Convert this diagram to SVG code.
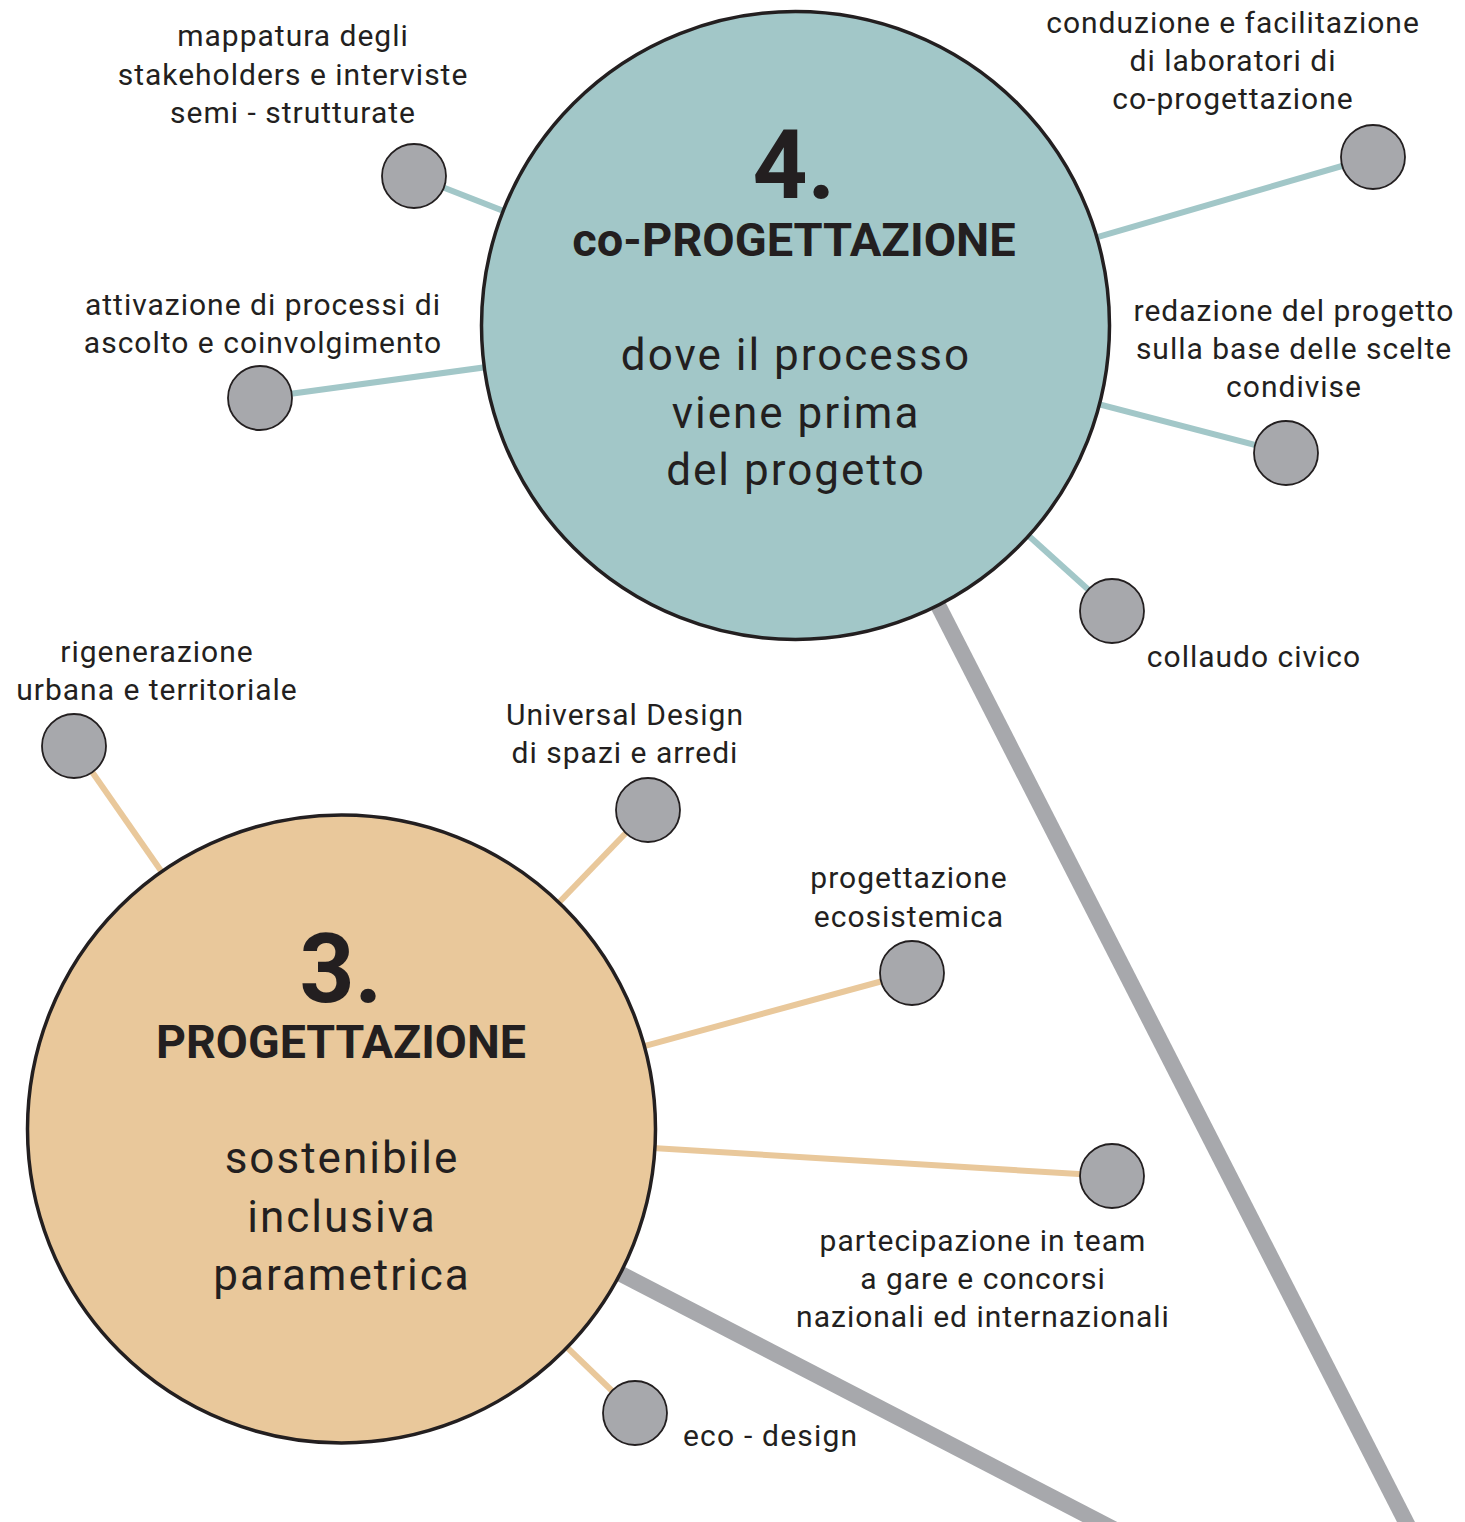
<svg xmlns="http://www.w3.org/2000/svg" width="1465" height="1522" viewBox="0 0 1465 1522">
<style>
text{font-family:Roboto,"Liberation Sans",sans-serif;fill:#231f20}
.lbl{font-size:30px;letter-spacing:1px;text-anchor:middle}
.lbl-s{font-size:30px;letter-spacing:1.2px}
.num{font-size:96px;font-weight:bold;text-anchor:middle}
.ttl{font-size:47px;font-weight:bold;text-anchor:middle}
.ttl3{font-size:46.5px;font-weight:bold;text-anchor:middle}
.sub{font-size:44px;letter-spacing:2px;text-anchor:middle}
.big{stroke:#231f20;stroke-width:3.5}
.dot{fill:#a7a8ac;stroke:#231f20;stroke-width:1.8}
.ct{stroke:#a2c7c8;stroke-width:6}
.co{stroke:#e9c89b;stroke-width:6}
.cg{stroke:#a7a8ac;stroke-width:16}
</style>
<rect width="1465" height="1522" fill="#ffffff"/>
<g id="connectors">
<line class="cg" x1="795" y1="325" x2="1457" y2="1622"/>
<line class="cg" x1="341" y1="1129" x2="1293" y2="1622"/>
<line class="ct" x1="795" y1="325" x2="414" y2="176"/>
<line class="ct" x1="795" y1="325" x2="260" y2="398"/>
<line class="ct" x1="795" y1="325" x2="1373" y2="157"/>
<line class="ct" x1="795" y1="325" x2="1286" y2="453"/>
<line class="ct" x1="795" y1="325" x2="1112" y2="611"/>
<line class="co" x1="341" y1="1129" x2="74" y2="746"/>
<line class="co" x1="341" y1="1129" x2="648" y2="810"/>
<line class="co" x1="341" y1="1129" x2="912" y2="973"/>
<line class="co" x1="341" y1="1129" x2="1112" y2="1176"/>
<line class="co" x1="341" y1="1129" x2="635" y2="1413"/>
</g>
<g id="node-4">
<circle class="big" cx="795.5" cy="325.5" r="314" fill="#a2c7c8"/>
<text class="num" x="794" y="198">4.</text>
<text class="ttl" x="794" y="256">co-PROGETTAZIONE</text>
<text class="sub" x="796" y="370">dove il processo</text>
<text class="sub" x="796" y="428">viene prima</text>
<text class="sub" x="796" y="485">del progetto</text>
</g>
<g id="node-3">
<circle class="big" cx="341.5" cy="1129" r="314" fill="#e9c89b"/>
<text class="num" x="341" y="1002">3.</text>
<text class="ttl3" x="341" y="1058">PROGETTAZIONE</text>
<text class="sub" x="342" y="1173">sostenibile</text>
<text class="sub" x="342" y="1232">inclusiva</text>
<text class="sub" x="342" y="1290">parametrica</text>
</g>
<g id="n-mappatura">
<circle class="dot" cx="414" cy="176" r="32"/>
<text class="lbl" x="293" y="46">mappatura degli</text>
<text class="lbl" x="293" y="85">stakeholders e interviste</text>
<text class="lbl" x="293" y="123">semi - strutturate</text>
</g>
<g id="n-attivazione">
<circle class="dot" cx="260" cy="398" r="32"/>
<text class="lbl" x="263" y="315">attivazione di processi di</text>
<text class="lbl" x="263" y="353">ascolto e coinvolgimento</text>
</g>
<g id="n-conduzione">
<circle class="dot" cx="1373" cy="157" r="32"/>
<text class="lbl" x="1233" y="33">conduzione e facilitazione</text>
<text class="lbl" x="1233" y="71">di laboratori di</text>
<text class="lbl" x="1233" y="109">co-progettazione</text>
</g>
<g id="n-redazione">
<circle class="dot" cx="1286" cy="453" r="32"/>
<text class="lbl" x="1294" y="321">redazione del progetto</text>
<text class="lbl" x="1294" y="359">sulla base delle scelte</text>
<text class="lbl" x="1294" y="397">condivise</text>
</g>
<g id="n-collaudo">
<circle class="dot" cx="1112" cy="611" r="32"/>
<text class="lbl" x="1254" y="667">collaudo civico</text>
</g>
<g id="n-rigenerazione">
<circle class="dot" cx="74" cy="746" r="32"/>
<text class="lbl" x="157" y="662">rigenerazione</text>
<text class="lbl" x="157" y="700">urbana e territoriale</text>
</g>
<g id="n-universal">
<circle class="dot" cx="648" cy="810" r="32"/>
<text class="lbl" x="625" y="725">Universal Design</text>
<text class="lbl" x="625" y="763">di spazi e arredi</text>
</g>
<g id="n-ecosistemica">
<circle class="dot" cx="912" cy="973" r="32"/>
<text class="lbl" x="909" y="888">progettazione</text>
<text class="lbl" x="909" y="927">ecosistemica</text>
</g>
<g id="n-partecipazione">
<circle class="dot" cx="1112" cy="1176" r="32"/>
<text class="lbl" x="983" y="1251">partecipazione in team</text>
<text class="lbl" x="983" y="1289">a gare e concorsi</text>
<text class="lbl" x="983" y="1327">nazionali ed internazionali</text>
</g>
<g id="n-ecodesign">
<circle class="dot" cx="635" cy="1413" r="32"/>
<text class="lbl-s" x="683" y="1446">eco - design</text>
</g>
</svg>
